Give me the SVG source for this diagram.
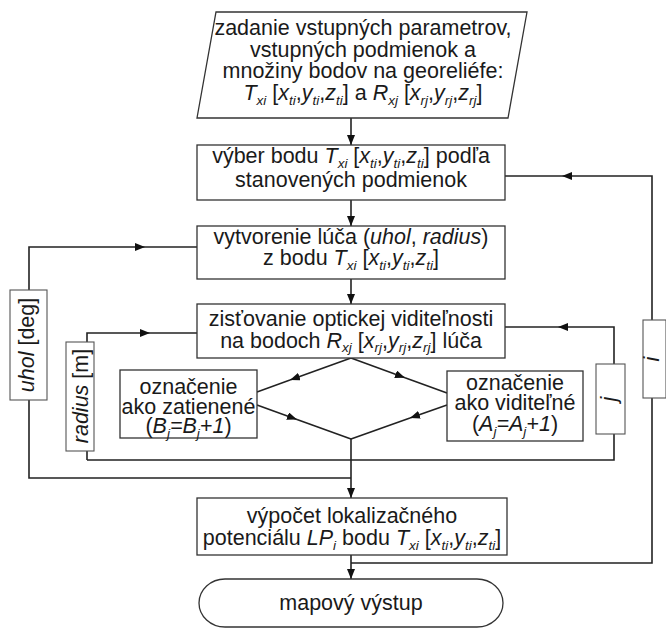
<svg xmlns="http://www.w3.org/2000/svg" width="666" height="629" viewBox="0 0 666 629">
<defs>
<style>
.t{font-family:"Liberation Sans",Arial,sans-serif;font-size:21.5px;fill:#1a1a1a;text-anchor:middle}
.it{font-style:italic}
.sub{font-size:13.5px;font-style:italic}
.box{fill:#fff;stroke:#333;stroke-width:1.3}
.lbl{fill:#fff;stroke:#555;stroke-width:1.1}
.ln{fill:none;stroke:#222;stroke-width:1.6}
</style>
<marker id="ah" viewBox="0 0 10 8" refX="10" refY="4" markerWidth="10" markerHeight="8" markerUnits="userSpaceOnUse" orient="auto"><path d="M0,0 L10,4 L0,8 z" fill="#111"/></marker>
</defs>
<rect width="666" height="629" fill="#fff"/>

<g id="connectors">
<path class="ln" d="M351,118 L351,145" marker-end="url(#ah)"/>
<path class="ln" d="M351,200 L351,226" marker-end="url(#ah)"/>
<path class="ln" d="M351,279 L351,304" marker-end="url(#ah)"/>
<path class="ln" d="M351,358 L290,380" marker-end="url(#ah)"/>
<path class="ln" d="M290,380 L257,392"/>
<path class="ln" d="M257,405 L297,419.5" marker-end="url(#ah)"/>
<path class="ln" d="M297,419.5 L351,439"/>
<path class="ln" d="M351,358 L405,377.7" marker-end="url(#ah)"/>
<path class="ln" d="M405,377.7 L447,393"/>
<path class="ln" d="M447,405 L410,418" marker-end="url(#ah)"/>
<path class="ln" d="M410,418 L351,439"/>
<path class="ln" d="M351,439 L351,498" marker-end="url(#ah)"/>
<path class="ln" d="M351,555 L351,579" marker-end="url(#ah)"/>
<path class="ln" d="M351,563 L652,563 L652,398"/>
<path class="ln" d="M652,320 L652,176 L562,176" marker-end="url(#ah)"/>
<path class="ln" d="M562,176 L505,176"/>
<path class="ln" d="M87,460 L614,460 L614,434"/>
<path class="ln" d="M614,364 L614,327 L558,327" marker-end="url(#ah)"/>
<path class="ln" d="M558,327 L505,327"/>
<path class="ln" d="M87,460 L87,451"/>
<path class="ln" d="M87,342 L87,333 L150,333" marker-end="url(#ah)"/>
<path class="ln" d="M150,333 L197,333"/>
<path class="ln" d="M351,478 L29,478 L29,400"/>
<path class="ln" d="M29,290 L29,247 L145,247" marker-end="url(#ah)"/>
<path class="ln" d="M145,247 L197,247"/>
</g>

<g id="input">
<polygon class="box" points="216,12 527,12 508,118 197,118"/>
<text class="t" x="363" y="35">zadanie vstupných parametrov,</text>
<text class="t" x="363" y="56.5">vstupných podmienok a</text>
<text class="t" x="363" y="78">množiny bodov na georeliéfe:</text>
<text class="t" x="363" y="100"><tspan class="it">T</tspan><tspan class="sub" dy="4.5">xi</tspan><tspan dy="-4.5"> [</tspan><tspan class="it">x</tspan><tspan class="sub" dy="4.5">ti</tspan><tspan dy="-4.5">,</tspan><tspan class="it">y</tspan><tspan class="sub" dy="4.5">ti</tspan><tspan dy="-4.5">,</tspan><tspan class="it">z</tspan><tspan class="sub" dy="4.5">ti</tspan><tspan dy="-4.5">] a </tspan><tspan class="it">R</tspan><tspan class="sub" dy="4.5">xj</tspan><tspan dy="-4.5"> [</tspan><tspan class="it">x</tspan><tspan class="sub" dy="4.5">rj</tspan><tspan dy="-4.5">,</tspan><tspan class="it">y</tspan><tspan class="sub" dy="4.5">rj</tspan><tspan dy="-4.5">,</tspan><tspan class="it">z</tspan><tspan class="sub" dy="4.5">rj</tspan><tspan dy="-4.5">]</tspan></text>
</g>

<g id="select">
<rect class="box" x="197" y="145" width="308" height="55"/>
<text class="t" x="351" y="163"><tspan>výber bodu </tspan><tspan class="it">T</tspan><tspan class="sub" dy="4.5">xi</tspan><tspan dy="-4.5"> [</tspan><tspan class="it">x</tspan><tspan class="sub" dy="4.5">ti</tspan><tspan dy="-4.5">,</tspan><tspan class="it">y</tspan><tspan class="sub" dy="4.5">ti</tspan><tspan dy="-4.5">,</tspan><tspan class="it">z</tspan><tspan class="sub" dy="4.5">ti</tspan><tspan dy="-4.5">] podľa</tspan></text>
<text class="t" x="351" y="186.5">stanovených podmienok</text>
</g>

<g id="ray">
<rect class="box" x="197" y="226" width="308" height="53"/>
<text class="t" x="351" y="243.5"><tspan>vytvorenie lúča (</tspan><tspan class="it">uhol</tspan><tspan>, </tspan><tspan class="it">radius</tspan><tspan>)</tspan></text>
<text class="t" x="351" y="265"><tspan>z bodu </tspan><tspan class="it">T</tspan><tspan class="sub" dy="4.5">xi</tspan><tspan dy="-4.5"> [</tspan><tspan class="it">x</tspan><tspan class="sub" dy="4.5">ti</tspan><tspan dy="-4.5">,</tspan><tspan class="it">y</tspan><tspan class="sub" dy="4.5">ti</tspan><tspan dy="-4.5">,</tspan><tspan class="it">z</tspan><tspan class="sub" dy="4.5">ti</tspan><tspan dy="-4.5">]</tspan></text>
</g>

<g id="visibility">
<rect class="box" x="197" y="304" width="308" height="54"/>
<text class="t" x="351" y="326">zisťovanie optickej viditeľnosti</text>
<text class="t" x="351" y="347.5"><tspan>na bodoch </tspan><tspan class="it">R</tspan><tspan class="sub" dy="4.5">xj</tspan><tspan dy="-4.5"> [</tspan><tspan class="it">x</tspan><tspan class="sub" dy="4.5">rj</tspan><tspan dy="-4.5">,</tspan><tspan class="it">y</tspan><tspan class="sub" dy="4.5">rj</tspan><tspan dy="-4.5">,</tspan><tspan class="it">z</tspan><tspan class="sub" dy="4.5">rj</tspan><tspan dy="-4.5">] lúča</tspan></text>
</g>

<g id="shaded">
<rect class="box" x="120" y="370" width="137" height="68"/>
<text class="t" x="188.5" y="394">označenie</text>
<text class="t" x="188.5" y="413.5">ako zatienené</text>
<text class="t" x="188.5" y="433"><tspan>(</tspan><tspan class="it">B</tspan><tspan class="sub" dy="4.5">j</tspan><tspan class="it" dy="-4.5">=B</tspan><tspan class="sub" dy="4.5">j</tspan><tspan class="it" dy="-4.5">+1</tspan><tspan>)</tspan></text>
</g>

<g id="visible">
<rect class="box" x="447" y="371" width="136" height="70"/>
<text class="t" x="515" y="390">označenie</text>
<text class="t" x="515" y="410">ako viditeľné</text>
<text class="t" x="515" y="431"><tspan>(</tspan><tspan class="it">A</tspan><tspan class="sub" dy="4.5">j</tspan><tspan class="it" dy="-4.5">=A</tspan><tspan class="sub" dy="4.5">j</tspan><tspan class="it" dy="-4.5">+1</tspan><tspan>)</tspan></text>
</g>

<g id="label-uhol">
<rect class="lbl" x="10" y="290" width="37" height="110"/>
<text class="t" transform="translate(34,345) rotate(-90)"><tspan class="it">uhol</tspan><tspan> [deg]</tspan></text>
</g>

<g id="label-radius">
<rect class="lbl" x="66" y="342" width="28" height="109"/>
<text class="t" transform="translate(87.5,396) rotate(-90)"><tspan class="it">radius</tspan><tspan> [m]</tspan></text>
</g>

<g id="label-j">
<rect class="lbl" x="596" y="364" width="29" height="70"/>
<text class="t" transform="translate(616,399) rotate(-90)"><tspan class="it">j</tspan></text>
</g>

<g id="label-i">
<rect class="lbl" x="643" y="320" width="23" height="78"/>
<text class="t" transform="translate(659,359) rotate(-90)"><tspan class="it">i</tspan></text>
</g>

<g id="potential">
<rect class="box" x="197" y="498" width="310" height="57"/>
<text class="t" x="352" y="523">výpočet lokalizačného</text>
<text class="t" x="352" y="545"><tspan>potenciálu </tspan><tspan class="it">LP</tspan><tspan class="sub" dy="4.5">i</tspan><tspan dy="-4.5"> bodu </tspan><tspan class="it">T</tspan><tspan class="sub" dy="4.5">xi</tspan><tspan dy="-4.5"> [</tspan><tspan class="it">x</tspan><tspan class="sub" dy="4.5">ti</tspan><tspan dy="-4.5">,</tspan><tspan class="it">y</tspan><tspan class="sub" dy="4.5">ti</tspan><tspan dy="-4.5">,</tspan><tspan class="it">z</tspan><tspan class="sub" dy="4.5">ti</tspan><tspan dy="-4.5">]</tspan></text>
</g>

<g id="output">
<rect class="box" x="199" y="579" width="304" height="48" rx="26" ry="24"/>
<text class="t" x="351" y="610">mapový výstup</text>
</g>
</svg>
